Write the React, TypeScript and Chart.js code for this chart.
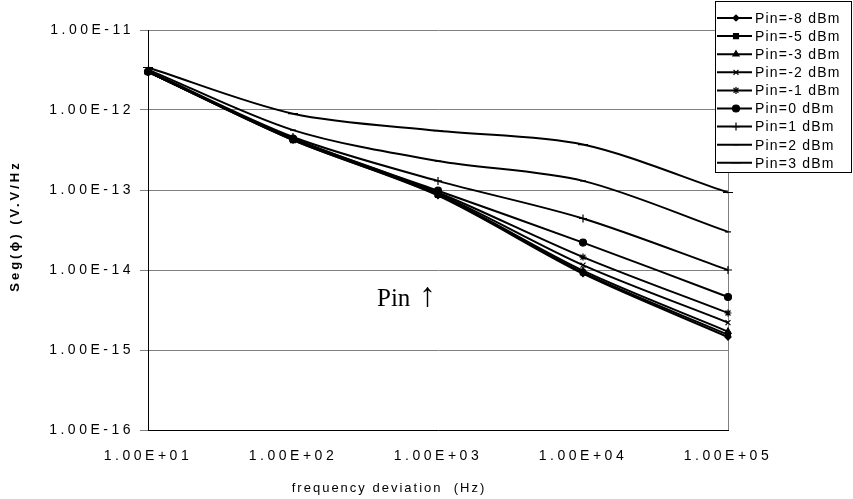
import React, { useEffect, useRef } from "react";
import { Chart, registerables } from "chart.js";
import { drawPoint } from "chart.js/helpers";
Chart.register(...registerables);

const categories = ["1.00E+01", "1.00E+02", "1.00E+03", "1.00E+04", "1.00E+05"];
const seriesNames = [
  "Pin=-8 dBm", "Pin=-5 dBm", "Pin=-3 dBm", "Pin=-2 dBm", "Pin=-1 dBm",
  "Pin=0 dBm", "Pin=1 dBm", "Pin=2 dBm", "Pin=3 dBm",
];
const pinM8 = [3.0e-12, 4.2e-13, 8.5e-14, 9.0e-15, 1.45e-15];
const pinM5 = [3.0e-12, 4.2e-13, 8.7e-14, 9.3e-15, 1.55e-15];
const pinM3 = [3.0e-12, 4.3e-13, 8.8e-14, 9.8e-15, 1.7e-15];
const pinM2 = [3.0e-12, 4.3e-13, 9.0e-14, 1.15e-14, 2.2e-15];
const pinM1 = [3.0e-12, 4.4e-13, 9.3e-14, 1.45e-14, 2.9e-15];
const pin0 = [3.0e-12, 4.4e-13, 9.8e-14, 2.2e-14, 4.6e-15];
const pin1 = [3.1e-12, 4.6e-13, 1.3e-13, 4.4e-14, 1.0e-14];
const pin2 = [3.2e-12, 5.6e-13, 2.3e-13, 1.3e-13, 3.0e-14];
const pin3 = [3.4e-12, 9.0e-13, 5.5e-13, 3.7e-13, 9.3e-14];
const seriesValues = [pinM8, pinM5, pinM3, pinM2, pinM1, pin0, pin1, pin2, pin3];
const yTickValues = [1e-11, 1e-12, 1e-13, 1e-14, 1e-15, 1e-16];

const markerStyles: any[] = ["rectRot", "rect", "triangle", "crossRot", "star", "circle", "cross", "line", "line"];
const markerRadius = [3, 3.5, 3.5, 3.5, 3.5, 3.5, 4, 3, 5];

const FONT = "'Liberation Sans', Arial, sans-serif";
const SPACING = "3.5px";

export default function App() {
  const ref = useRef<HTMLCanvasElement>(null);
  useEffect(() => {
    if (!ref.current) return;
    const spacingPlugin = {
      id: "spacing",
      beforeLayout(chart: any) { chart.ctx.letterSpacing = SPACING; },
      beforeDraw(chart: any) { chart.ctx.letterSpacing = SPACING; },
    };
    const decor = {
      id: "decor",
      afterDraw(chart: any) {
        const ctx = chart.ctx as CanvasRenderingContext2D;
        ctx.save();
        // legend
        ctx.letterSpacing = "1.2px";
        ctx.fillStyle = "#fff";
        ctx.fillRect(715.5, 1.5, 136, 171);
        ctx.strokeStyle = "#000";
        ctx.lineWidth = 1;
        ctx.strokeRect(715.5, 1.5, 136, 171);
        ctx.font = `14px ${FONT}`;
        ctx.textAlign = "left";
        ctx.textBaseline = "middle";
        seriesNames.forEach((name, i) => {
          const y = 18 + i * 18.1;
          ctx.strokeStyle = "#000";
          ctx.lineWidth = 2;
          ctx.beginPath();
          ctx.moveTo(717, y);
          ctx.lineTo(752, y);
          ctx.stroke();
          ctx.fillStyle = "#000";
          ctx.lineWidth = 1.2;
          drawPoint(ctx, { pointStyle: markerStyles[i], radius: markerRadius[i], rotation: 0, borderWidth: 1.2 } as any, 736, y);
          ctx.fillStyle = "#000";
          ctx.fillText(name, 755, y + 1);
        });
        // axis titles
        ctx.letterSpacing = "2px";
        ctx.font = `13px ${FONT}`;
        ctx.textAlign = "center";
        ctx.fillText("frequency deviation  (Hz)", 389, 488);
        ctx.save();
        ctx.letterSpacing = "3px";
        ctx.translate(15, 226);
        ctx.rotate(-Math.PI / 2);
        ctx.font = `bold 13px ${FONT}`;
        ctx.fillText("Seg(ϕ) (V.V/Hz", 0, 0);
        ctx.restore();
        // annotation
        ctx.letterSpacing = "0px";
        ctx.textAlign = "left";
        ctx.textBaseline = "alphabetic";
        ctx.font = `25px 'Liberation Serif', 'Times New Roman', serif`;
        ctx.fillText("Pin", 377, 306);
        ctx.font = `34px 'Liberation Serif', 'Times New Roman', serif`;
        ctx.fillText("↑", 419, 306);
        ctx.restore();
      },
    };
    const chart = new Chart(ref.current, {
      type: "line",
      data: {
        labels: categories,
        datasets: seriesValues.map((vals, i) => ({
          label: seriesNames[i],
          data: vals,
          borderColor: "#000",
          backgroundColor: "#000",
          borderWidth: 2,
          tension: 0.3,
          pointStyle: markerStyles[i],
          pointRadius: markerRadius[i],
          pointBorderWidth: 1.2,
          pointBorderColor: "#000",
          pointBackgroundColor: "#000",
          fill: false,
        })),
      },
      options: {
        responsive: false,
        animation: false,
        devicePixelRatio: 1,
        layout: { padding: { left: 0, right: 125, top: 30, bottom: 0 } },
        plugins: { legend: { display: false }, tooltip: { enabled: false } },
        scales: {
          x: {
            type: "category",
            offset: false,
            afterFit(scale: any) { scale.height = 69; },
            grid: {
              color: (c: any) => (c.index === 4 ? "#808080" : "rgba(0,0,0,0)"),
              lineWidth: 1,
              tickColor: "rgba(0,0,0,0)",
              tickLength: 5,
              drawTicks: true,
            },
            border: { display: true, color: "#000", width: 1 },
            ticks: { color: "#000", font: { family: FONT, size: 14 }, padding: 13, maxRotation: 0, autoSkip: false },
          },
          y: {
            type: "logarithmic",
            min: 1e-16,
            max: 1e-11,
            afterFit(scale: any) { scale.width = 148; },
            afterBuildTicks(scale: any) { scale.ticks = yTickValues.map((v) => ({ value: v })); },
            grid: { color: "#808080", lineWidth: 1, tickColor: "#808080", tickLength: 8 },
            border: { display: true, color: "#000", width: 1 },
            ticks: {
              color: "#000",
              font: { family: FONT, size: 14 },
              padding: 6,
              callback: (v: any) => Number(v).toExponential(2).toUpperCase(),
            },
          },
        },
      },
      plugins: [spacingPlugin, decor],
    });
    return () => chart.destroy();
  }, []);
  return (
    <div style={{ position: "absolute", left: 0, top: 0, width: 853, height: 499, background: "#fff" }}>
      <canvas ref={ref} width={853} height={499} style={{ width: 853, height: 499, display: "block" }} />
    </div>
  );
}
